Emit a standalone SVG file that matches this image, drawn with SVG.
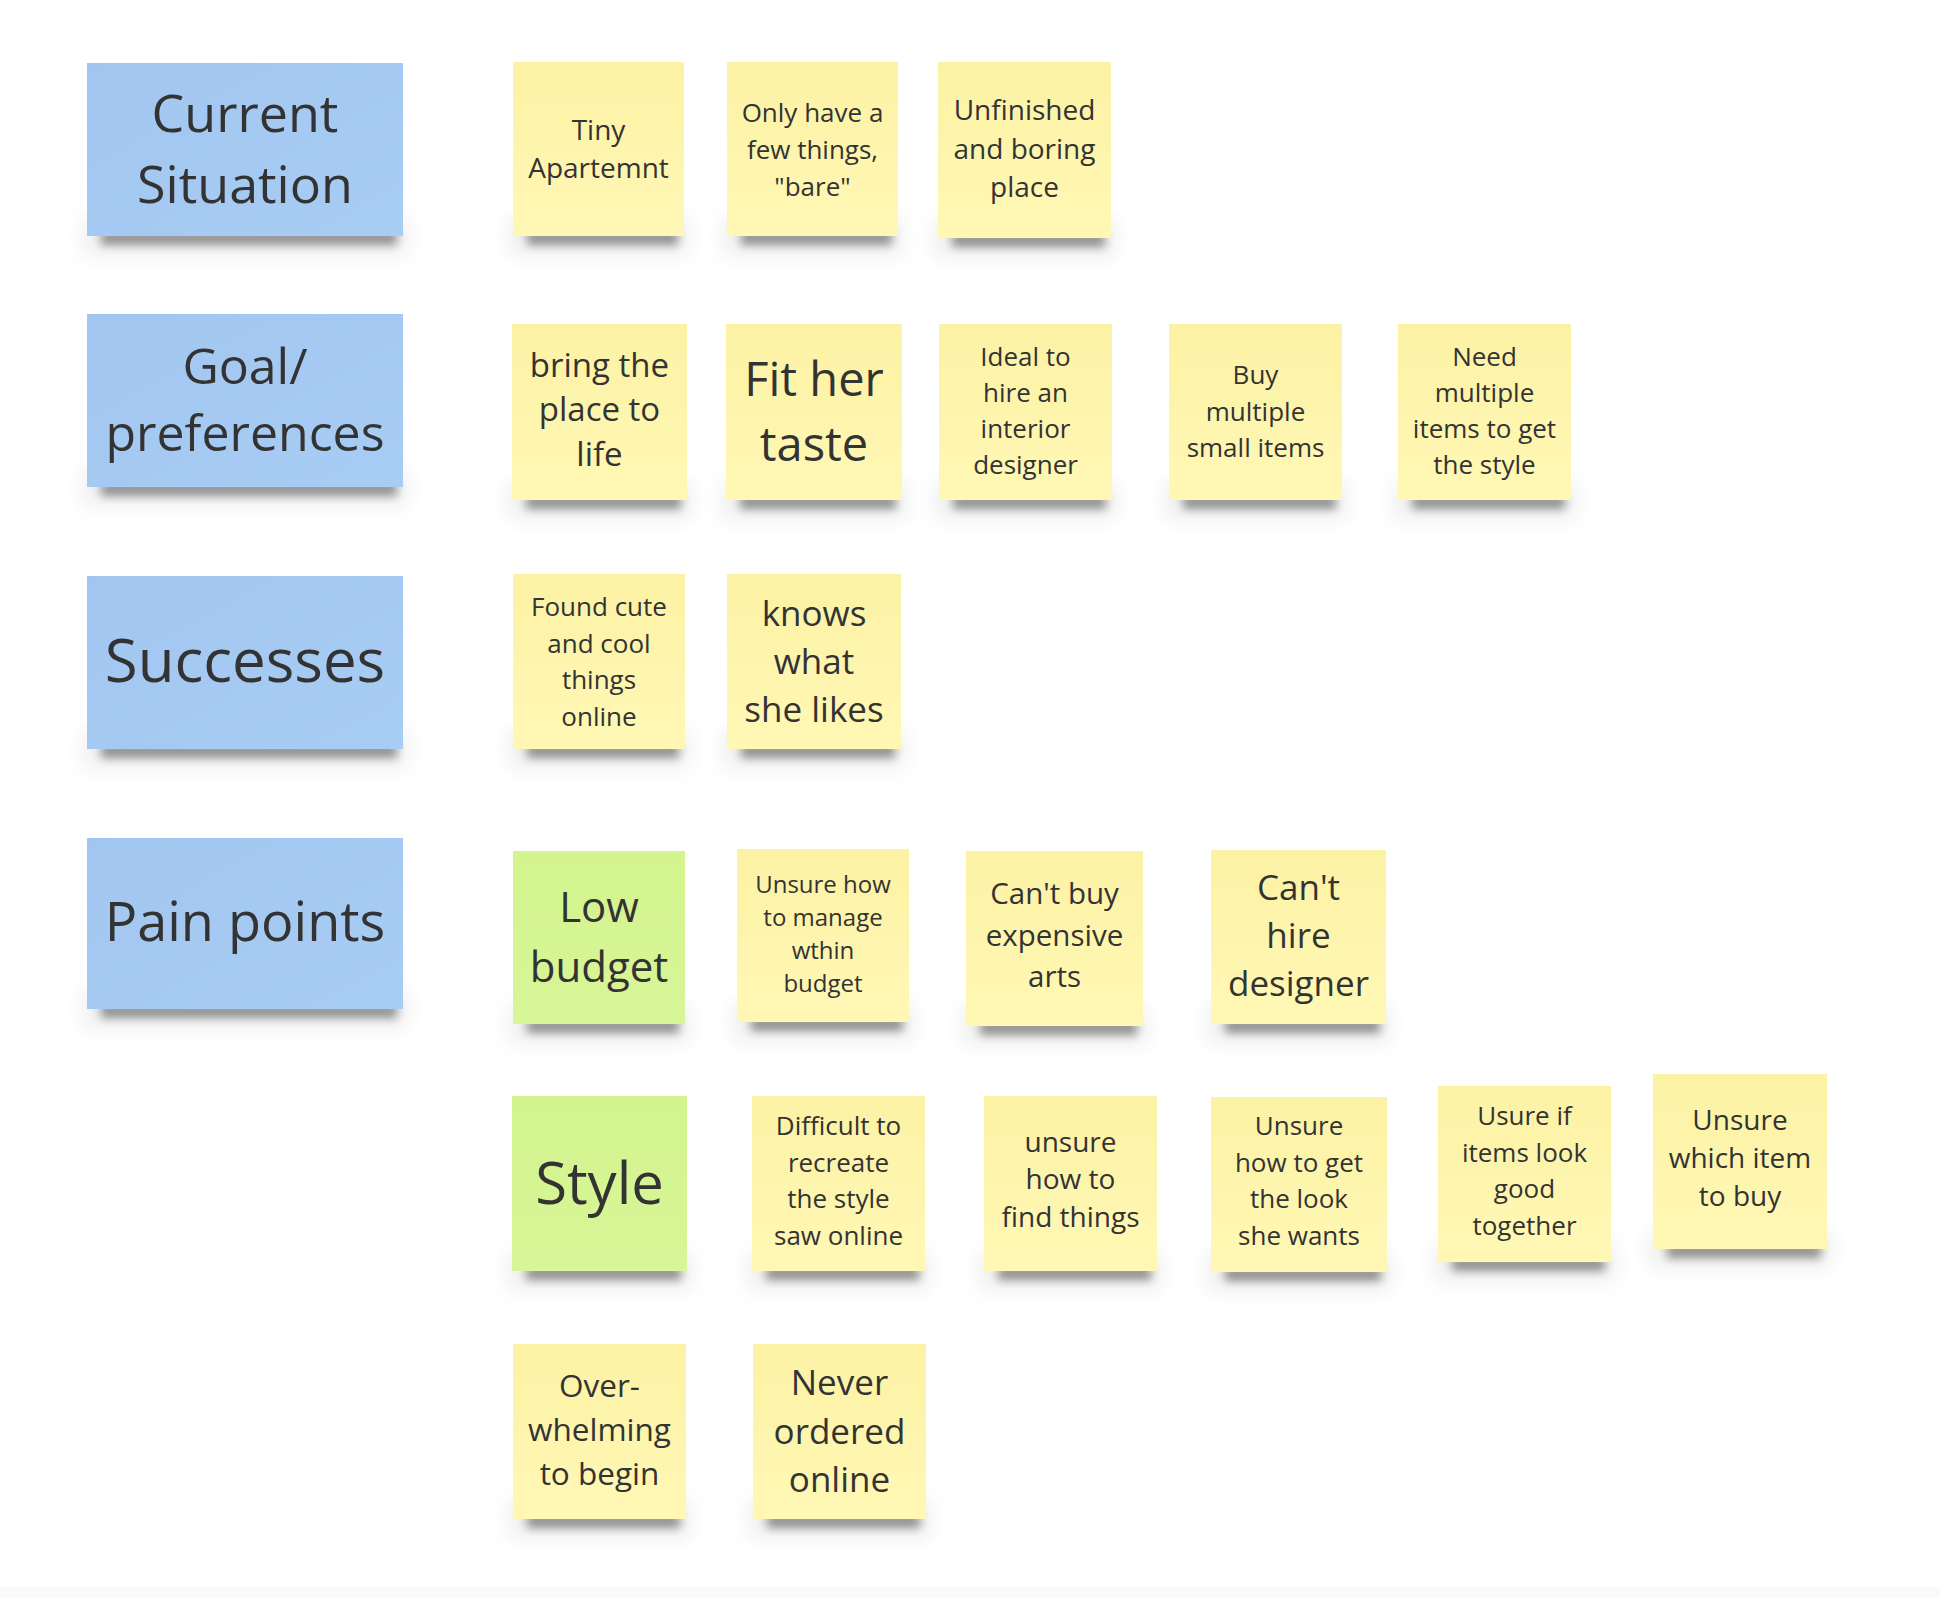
<svg xmlns="http://www.w3.org/2000/svg" width="1940" height="1598" viewBox="0 0 1940 1598">
<defs>
<linearGradient id="gy" x1="0" y1="0" x2="0" y2="1"><stop offset="0" stop-color="#fcf2a5"/><stop offset="1" stop-color="#fff8b5"/></linearGradient>
<linearGradient id="gb" x1="0" y1="0" x2="1" y2="1"><stop offset="0" stop-color="#a2c6ef"/><stop offset="1" stop-color="#a8cdf5"/></linearGradient>
<linearGradient id="gg" x1="0" y1="0" x2="0" y2="1"><stop offset="0" stop-color="#d3f48e"/><stop offset="1" stop-color="#d8f597"/></linearGradient>
<filter id="f1" x="-20%" y="-200%" width="140%" height="500%"><feGaussianBlur stdDeviation="5"/></filter>
<filter id="f2" x="-20%" y="-200%" width="140%" height="500%"><feGaussianBlur stdDeviation="10"/></filter>
</defs>
<style>
.y{fill:url(#gy)}
.b{fill:url(#gb)}
.g{fill:url(#gg)}
.s1{fill:#000;opacity:.4;filter:url(#f1)}
.s2{fill:#000;opacity:.06;filter:url(#f2)}
text{font-family:"Open Sans","Noto Sans","Liberation Sans",sans-serif;fill:#333;text-anchor:middle}
</style>
<rect width="1940" height="1598" fill="#fff"/>
<rect y="1587" width="1940" height="11" fill="#fafafa"/>
<g id="connectors"/>

<g id="cur">
<rect class="s2" x="82" y="216" width="326" height="40"/><rect class="s1" x="101" y="231" width="296" height="14"/>
<rect class="b" x="87" y="63" width="316" height="173"/>
<text font-size="52"><tspan x="245" y="132">Current</tspan><tspan x="245" y="203">Situation</tspan></text>
</g>
<g id="goal">
<rect class="s2" x="82" y="467" width="326" height="40"/><rect class="s1" x="101" y="482" width="296" height="14"/>
<rect class="b" x="87" y="314" width="316" height="173"/>
<text font-size="50"><tspan x="245" y="384">Goal/</tspan><tspan x="245" y="451">preferences</tspan></text>
</g>
<g id="succ">
<rect class="s2" x="82" y="729" width="326" height="40"/><rect class="s1" x="101" y="744" width="296" height="14"/>
<rect class="b" x="87" y="576" width="316" height="173"/>
<text font-size="60" x="245" y="682">Successes</text>
</g>
<g id="pain">
<rect class="s2" x="82" y="989" width="326" height="40"/><rect class="s1" x="101" y="1004" width="296" height="14"/>
<rect class="b" x="87" y="838" width="316" height="171"/>
<text font-size="54" x="245" y="941">Pain points</text>
</g>

<g id="n_tiny">
<rect class="s2" x="508" y="216" width="181" height="40"/><rect class="s1" x="527" y="231" width="151" height="14"/>
<rect class="y" x="513" y="62" width="171" height="174"/>
<text font-size="28"><tspan x="598.5" y="140">Tiny</tspan><tspan x="598.5" y="178">Apartemnt</tspan></text>
</g>
<g id="n_only">
<rect class="s2" x="722" y="216" width="181" height="40"/><rect class="s1" x="741" y="231" width="151" height="14"/>
<rect class="y" x="727" y="62" width="171" height="174"/>
<text font-size="26"><tspan x="812.5" y="122">Only have a</tspan><tspan x="812.5" y="159">few things,</tspan><tspan x="812.5" y="196">"bare"</tspan></text>
</g>
<g id="n_unfin">
<rect class="s2" x="933" y="218" width="183" height="40"/><rect class="s1" x="952" y="233" width="153" height="14"/>
<rect class="y" x="938" y="62" width="173" height="176"/>
<text font-size="28"><tspan x="1024.5" y="120">Unfinished</tspan><tspan x="1024.5" y="158.5">and boring</tspan><tspan x="1024.5" y="197">place</tspan></text>
</g>

<g id="n_bring">
<rect class="s2" x="507" y="480" width="185" height="40"/><rect class="s1" x="526" y="495" width="155" height="14"/>
<rect class="y" x="512" y="324" width="175" height="176"/>
<text font-size="33"><tspan x="599.5" y="377">bring the</tspan><tspan x="599.5" y="421">place to</tspan><tspan x="599.5" y="466">life</tspan></text>
</g>
<g id="n_fit">
<rect class="s2" x="721" y="480" width="186" height="40"/><rect class="s1" x="740" y="495" width="156" height="14"/>
<rect class="y" x="726" y="324" width="176" height="176"/>
<text font-size="47"><tspan x="814" y="396">Fit her</tspan><tspan x="814" y="461">taste</tspan></text>
</g>
<g id="n_ideal">
<rect class="s2" x="934" y="480" width="183" height="40"/><rect class="s1" x="953" y="495" width="153" height="14"/>
<rect class="y" x="939" y="324" width="173" height="176"/>
<text font-size="26"><tspan x="1025.5" y="366">Ideal to</tspan><tspan x="1025.5" y="402">hire an</tspan><tspan x="1025.5" y="438">interior</tspan><tspan x="1025.5" y="474">designer</tspan></text>
</g>
<g id="n_buy">
<rect class="s2" x="1164" y="480" width="183" height="40"/><rect class="s1" x="1183" y="495" width="153" height="14"/>
<rect class="y" x="1169" y="324" width="173" height="176"/>
<text font-size="26"><tspan x="1255.5" y="384">Buy</tspan><tspan x="1255.5" y="421">multiple</tspan><tspan x="1255.5" y="457">small items</tspan></text>
</g>
<g id="n_need">
<rect class="s2" x="1393" y="480" width="183" height="40"/><rect class="s1" x="1412" y="495" width="153" height="14"/>
<rect class="y" x="1398" y="324" width="173" height="176"/>
<text font-size="26"><tspan x="1484.5" y="366">Need</tspan><tspan x="1484.5" y="402">multiple</tspan><tspan x="1484.5" y="438">items to get</tspan><tspan x="1484.5" y="474">the style</tspan></text>
</g>

<g id="n_found">
<rect class="s2" x="508" y="729" width="182" height="40"/><rect class="s1" x="527" y="744" width="152" height="14"/>
<rect class="y" x="513" y="574" width="172" height="175"/>
<text font-size="26"><tspan x="599" y="616">Found cute</tspan><tspan x="599" y="652.5">and cool</tspan><tspan x="599" y="689">things</tspan><tspan x="599" y="725.5">online</tspan></text>
</g>
<g id="n_knows">
<rect class="s2" x="722" y="729" width="184" height="40"/><rect class="s1" x="741" y="744" width="154" height="14"/>
<rect class="y" x="727" y="574" width="174" height="175"/>
<text font-size="35"><tspan x="814" y="626">knows</tspan><tspan x="814" y="674">what</tspan><tspan x="814" y="722">she likes</tspan></text>
</g>

<g id="n_low">
<rect class="s2" x="508" y="1004" width="182" height="40"/><rect class="s1" x="527" y="1019" width="152" height="14"/>
<rect class="g" x="513" y="851" width="172" height="173"/>
<text font-size="42"><tspan x="599" y="922">Low</tspan><tspan x="599" y="982">budget</tspan></text>
</g>
<g id="n_manage">
<rect class="s2" x="732" y="1002" width="182" height="40"/><rect class="s1" x="751" y="1017" width="152" height="14"/>
<rect class="y" x="737" y="849" width="172" height="173"/>
<text font-size="24"><tspan x="823" y="893">Unsure how</tspan><tspan x="823" y="926">to manage</tspan><tspan x="823" y="959">wthin</tspan><tspan x="823" y="992">budget</tspan></text>
</g>
<g id="n_cantbuy">
<rect class="s2" x="961" y="1006" width="187" height="40"/><rect class="s1" x="980" y="1021" width="157" height="14"/>
<rect class="y" x="966" y="851" width="177" height="175"/>
<text font-size="29.5"><tspan x="1054.5" y="904">Can't buy</tspan><tspan x="1054.5" y="945.5">expensive</tspan><tspan x="1054.5" y="987">arts</tspan></text>
</g>
<g id="n_canthire">
<rect class="s2" x="1206" y="1004" width="185" height="40"/><rect class="s1" x="1225" y="1019" width="155" height="14"/>
<rect class="y" x="1211" y="850" width="175" height="174"/>
<text font-size="35"><tspan x="1298.5" y="900">Can't</tspan><tspan x="1298.5" y="948">hire</tspan><tspan x="1298.5" y="996">designer</tspan></text>
</g>

<g id="n_style">
<rect class="s2" x="507" y="1251" width="185" height="40"/><rect class="s1" x="526" y="1266" width="155" height="14"/>
<rect class="g" x="512" y="1096" width="175" height="175"/>
<text font-size="58" x="599.5" y="1204">Style</text>
</g>
<g id="n_diff">
<rect class="s2" x="747" y="1251" width="183" height="40"/><rect class="s1" x="766" y="1266" width="153" height="14"/>
<rect class="y" x="752" y="1096" width="173" height="175"/>
<text font-size="26"><tspan x="838.5" y="1135">Difficult to</tspan><tspan x="838.5" y="1171.5">recreate</tspan><tspan x="838.5" y="1208">the style</tspan><tspan x="838.5" y="1244.5">saw online</tspan></text>
</g>
<g id="n_find">
<rect class="s2" x="979" y="1251" width="183" height="40"/><rect class="s1" x="998" y="1266" width="153" height="14"/>
<rect class="y" x="984" y="1096" width="173" height="175"/>
<text font-size="28"><tspan x="1070.5" y="1152">unsure</tspan><tspan x="1070.5" y="1189">how to</tspan><tspan x="1070.5" y="1227">find things</tspan></text>
</g>
<g id="n_look">
<rect class="s2" x="1206" y="1252" width="186" height="40"/><rect class="s1" x="1225" y="1267" width="156" height="14"/>
<rect class="y" x="1211" y="1097" width="176" height="175"/>
<text font-size="26"><tspan x="1299" y="1135">Unsure</tspan><tspan x="1299" y="1171.5">how to get</tspan><tspan x="1299" y="1208">the look</tspan><tspan x="1299" y="1244.5">she wants</tspan></text>
</g>
<g id="n_usure">
<rect class="s2" x="1433" y="1242" width="183" height="40"/><rect class="s1" x="1452" y="1257" width="153" height="14"/>
<rect class="y" x="1438" y="1086" width="173" height="176"/>
<text font-size="26"><tspan x="1524.5" y="1125">Usure if</tspan><tspan x="1524.5" y="1161.5">items look</tspan><tspan x="1524.5" y="1198">good</tspan><tspan x="1524.5" y="1234.5">together</tspan></text>
</g>
<g id="n_which">
<rect class="s2" x="1648" y="1229" width="184" height="40"/><rect class="s1" x="1667" y="1244" width="154" height="14"/>
<rect class="y" x="1653" y="1074" width="174" height="175"/>
<text font-size="28"><tspan x="1740" y="1130">Unsure</tspan><tspan x="1740" y="1168">which item</tspan><tspan x="1740" y="1206">to buy</tspan></text>
</g>

<g id="n_over">
<rect class="s2" x="508" y="1499" width="183" height="40"/><rect class="s1" x="527" y="1514" width="153" height="14"/>
<rect class="y" x="513" y="1344" width="173" height="175"/>
<text font-size="31.5"><tspan x="599.5" y="1397">Over-</tspan><tspan x="599.5" y="1441">whelming</tspan><tspan x="599.5" y="1485">to begin</tspan></text>
</g>
<g id="n_never">
<rect class="s2" x="748" y="1499" width="183" height="40"/><rect class="s1" x="767" y="1514" width="153" height="14"/>
<rect class="y" x="753" y="1344" width="173" height="175"/>
<text font-size="35"><tspan x="839.5" y="1395">Never</tspan><tspan x="839.5" y="1443.5">ordered</tspan><tspan x="839.5" y="1492">online</tspan></text>
</g>
</svg>
